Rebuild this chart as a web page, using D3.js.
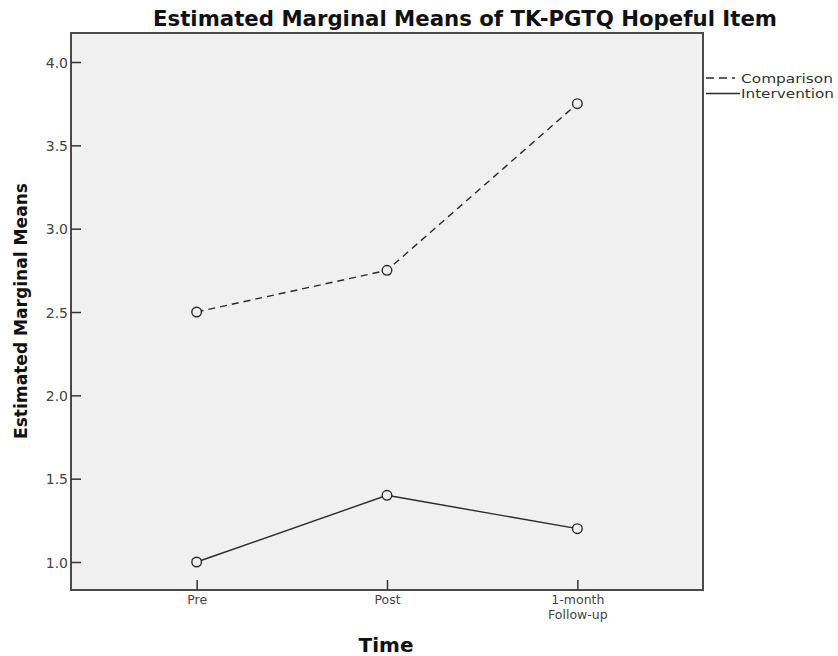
<!DOCTYPE html>
<html><head><meta charset="utf-8">
<script src="https://cdn.jsdelivr.net/npm/d3@7"></script>
<style>body{margin:0;background:#fff}svg{display:block}</style>
</head><body>
<svg id="c" width="838" height="656"></svg>
<script>
const categories = ["Pre", "Post", "1-month\nFollow-up"];
const comparison = [2.5, 2.75, 3.75];
const intervention = [1.0, 1.4, 1.2];
const yTicks = [1.0, 1.5, 2.0, 2.5, 3.0, 3.5, 4.0];
const seriesNames = ["Comparison", "Intervention"];

const svg = d3.select("#c");
const L = 71, R = 703, T = 33, B = 590;
const font = "'DejaVu Sans', sans-serif";

const x = d3.scalePoint().domain(categories).range([L, R]).padding(0.66);
const y = d3.scaleLinear().domain([1.0, 4.0]).range([562, 62]);

svg.append("rect").attr("x", L).attr("y", T).attr("width", R - L).attr("height", B - T)
  .attr("fill", "#f0f0f0").attr("stroke", "#4a4a4a").attr("stroke-width", 2);

// y axis
const ya = svg.append("g").attr("transform", `translate(${L},0)`)
  .call(d3.axisRight(y).tickValues(yTicks).tickFormat(d3.format(".1f")).tickSize(10));
ya.select(".domain").remove();
ya.selectAll("line").attr("stroke", "#333").attr("stroke-width", 1.5);
ya.selectAll("text").attr("x", -3).attr("dy", "0.36em").attr("text-anchor", "end").attr("fill", "#444")
  .style("font-family", font).style("font-size", "14px");

// x axis
const xa = svg.append("g").attr("transform", `translate(0,${B})`)
  .call(d3.axisTop(x).tickSize(10).tickFormat(""));
xa.select(".domain").remove();
xa.selectAll("line").attr("stroke", "#333").attr("stroke-width", 1.5);
xa.selectAll(".tick").each(function(d) {
  const lines = d.split("\n");
  const t = d3.select(this).append("text").attr("fill", "#444").attr("text-anchor", "middle")
    .style("font-family", font).style("font-size", "12.5px");
  lines.forEach((s, i) => t.append("tspan").attr("x", 0).attr("y", 14 + i * 14.5).text(s));
});

const line = d3.line().x((d, i) => x(categories[i])).y(d => y(d));
const series = [
  {name: seriesNames[0], vals: comparison, dash: "7,5"},
  {name: seriesNames[1], vals: intervention, dash: null}
];
series.forEach(s => {
  svg.append("path").attr("d", line(s.vals)).attr("fill", "none").attr("stroke", "#2a2a2a")
    .attr("stroke-width", 1.4).attr("stroke-dasharray", s.dash);
  svg.selectAll(null).data(s.vals).enter().append("circle")
    .attr("cx", (d, i) => x(categories[i])).attr("cy", d => y(d)).attr("r", 4.8)
    .attr("fill", "#f0f0f0").attr("stroke", "#2a2a2a").attr("stroke-width", 1.4);
});

// title
svg.append("text").attr("x", 465).attr("y", 26).attr("text-anchor", "middle")
  .style("font-family", font).style("font-weight", "bold").style("font-size", "21px").attr("fill", "#111")
  .attr("textLength", 624).attr("lengthAdjust", "spacingAndGlyphs")
  .text("Estimated Marginal Means of TK-PGTQ Hopeful Item");

// axis titles
svg.append("text").attr("transform", "translate(27,311) rotate(-90)").attr("text-anchor", "middle")
  .style("font-family", font).style("font-weight", "bold").style("font-size", "17px").attr("fill", "#111")
  .attr("textLength", 256).attr("lengthAdjust", "spacingAndGlyphs")
  .text("Estimated Marginal Means");
svg.append("text").attr("x", 386).attr("y", 652).attr("text-anchor", "middle")
  .style("font-family", font).style("font-weight", "bold").style("font-size", "20px").attr("fill", "#111")
  .text("Time");

// legend
series.forEach((s, i) => {
  const ly = 78 + i * 15.5;
  svg.append("line").attr("x1", 706).attr("x2", s.dash ? 735 : 740).attr("y1", ly).attr("y2", ly)
    .attr("stroke", "#2a2a2a").attr("stroke-width", 1.3).attr("stroke-dasharray", s.dash ? "8,5" : null);
  svg.append("text").attr("x", 741).attr("y", ly + 4.5).attr("fill", "#333")
    .style("font-family", font).style("font-size", "12.5px")
    .attr("textLength", s.name === "Comparison" ? 92 : 93).attr("lengthAdjust", "spacingAndGlyphs")
    .text(s.name);
});
</script>
</body></html>
